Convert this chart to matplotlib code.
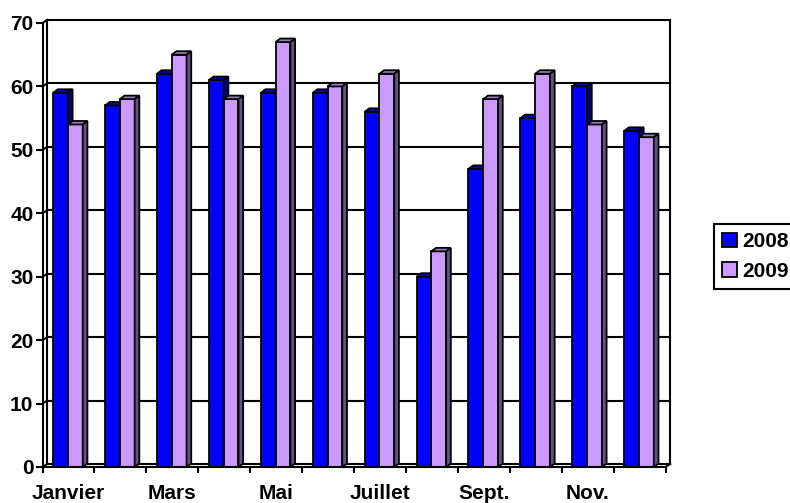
import matplotlib
matplotlib.use("Agg")
import matplotlib.pyplot as plt
from matplotlib.patches import Polygon, Patch

# Monthly values for both years
months = ["Janvier", "Février", "Mars", "Avril", "Mai", "Juin",
          "Juillet", "Août", "Sept.", "Oct.", "Nov.", "Déc."]
values_2008 = [59, 57, 62, 61, 59, 59, 56, 30, 47, 55, 60, 53]
values_2009 = [54, 58, 65, 58, 67, 60, 62, 34, 58, 62, 54, 52]
y_ticks = [0, 10, 20, 30, 40, 50, 60, 70]
series_names = ["2008", "2009"]

# colours: front, top, side
COLORS_2008 = ("#0000FF", "#0000B8", "#000080")
COLORS_2009 = ("#CC99FF", "#9C7BC4", "#665080")

# 3D depth offsets (category units, value units)
BAR_DX, BAR_DY = 0.09, 0.55
WALL_DX, WALL_DY = 0.09, 0.47
BAR_W = 0.285

plt.rcParams["font.family"] = ["Liberation Sans", "DejaVu Sans"]
plt.rcParams["font.weight"] = "bold"

fig = plt.figure(figsize=(7.9, 5.03), dpi=100)
ax = fig.add_axes([42.5 / 790, 36 / 503, 623 / 790, 444 / 503])
ax.set_xlim(0, len(months))
ax.set_ylim(y_ticks[0], y_ticks[-1])

n = len(months)
line_kw = dict(color="black", lw=1.5, clip_on=False, zorder=1)

# back wall gridlines + the small side-wall connectors
for v in y_ticks:
    ax.plot([WALL_DX, n + WALL_DX], [v + WALL_DY, v + WALL_DY], **line_kw)
    ax.plot([0, WALL_DX], [v, v + WALL_DY], **line_kw)
ax.plot([WALL_DX, WALL_DX], [WALL_DY, y_ticks[-1] + WALL_DY], **line_kw)
ax.plot([n + WALL_DX, n + WALL_DX], [WALL_DY, y_ticks[-1] + WALL_DY], **line_kw)
ax.plot([n, n + WALL_DX], [0, WALL_DY], **line_kw)


def draw_bar(x0, h, colors, z):
    front, top, side = colors
    ax.bar(x0, h, width=BAR_W, align="edge", color=front,
           edgecolor="black", linewidth=1.3, zorder=z)
    ax.add_patch(Polygon([(x0, h), (x0 + BAR_DX, h + BAR_DY),
                          (x0 + BAR_W + BAR_DX, h + BAR_DY), (x0 + BAR_W, h)],
                         closed=True, fc=top, ec="black", lw=1.3, zorder=z,
                         clip_on=False))
    ax.add_patch(Polygon([(x0 + BAR_W, 0), (x0 + BAR_W + BAR_DX, BAR_DY),
                          (x0 + BAR_W + BAR_DX, h + BAR_DY), (x0 + BAR_W, h)],
                         closed=True, fc=side, ec="black", lw=1.3, zorder=z,
                         clip_on=False))


for i in range(n):
    draw_bar(i + 0.205, values_2008[i], COLORS_2008, 3)
    draw_bar(i + 0.205 + BAR_W, values_2009[i], COLORS_2009, 4)

# axes styling
for side in ("top", "right"):
    ax.spines[side].set_visible(False)
for side in ("left", "bottom"):
    ax.spines[side].set_linewidth(1.5)
    ax.spines[side].set_zorder(5)

ax.set_yticks(y_ticks)
ax.set_yticklabels([str(v) for v in y_ticks], fontsize=15, fontweight="bold")
ax.tick_params(axis="y", length=5, width=1.5, pad=1.5)

ax.set_xticks(range(n + 1))
ax.set_xticklabels([])
ax.tick_params(axis="x", which="major", length=4.5, width=1.5)
ax.set_xticks([i + 0.5 for i in range(0, n, 2)], months[::2], minor=True)
ax.tick_params(axis="x", which="minor", length=0, pad=12, labelsize=15)
for lbl in ax.get_xticklabels(minor=True):
    lbl.set_fontweight("bold")

ax.set_facecolor("none")

# legend at the right border, as in the original
handles = [Patch(facecolor=COLORS_2008[0], edgecolor="black", lw=1.3),
           Patch(facecolor=COLORS_2009[0], edgecolor="black", lw=1.3)]
leg = fig.legend(handles, series_names, loc="upper left",
                 bbox_to_anchor=(714 / 790, (503 - 224) / 503),
                 borderaxespad=0, fancybox=False, framealpha=1,
                 edgecolor="black", prop=dict(size=15, weight="bold"),
                 handlelength=0.7, handleheight=0.7, handletextpad=0.25,
                 borderpad=0.4, labelspacing=0.5)
leg.get_frame().set_linewidth(1.5)

fig.savefig("out.png", dpi=100)
